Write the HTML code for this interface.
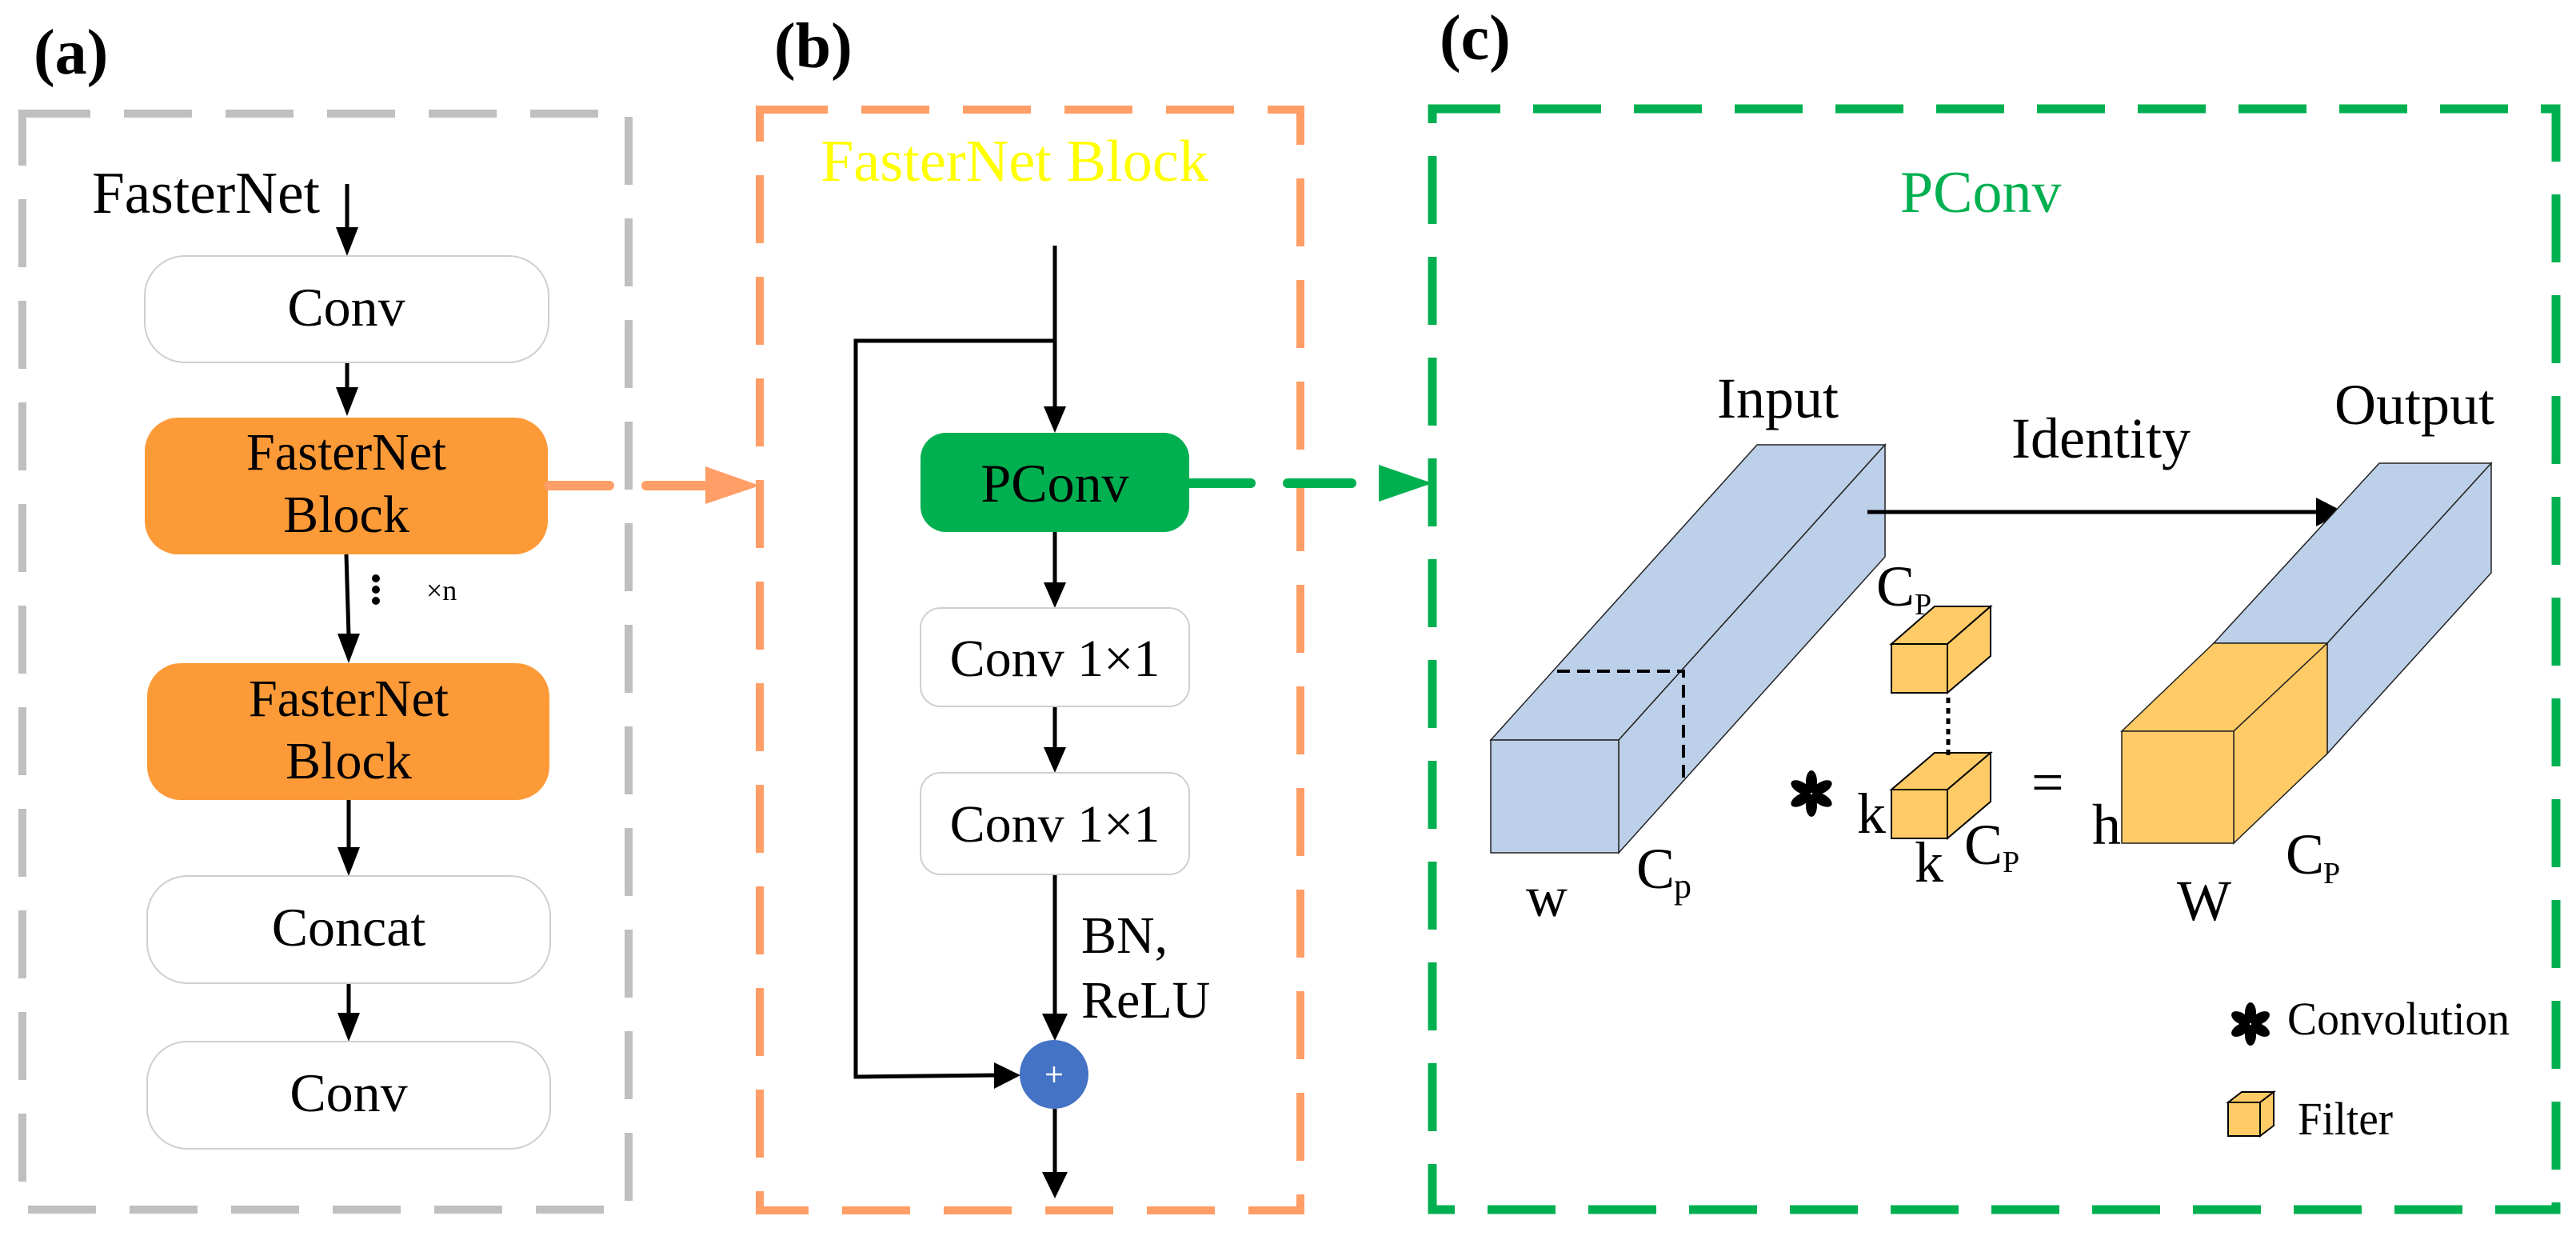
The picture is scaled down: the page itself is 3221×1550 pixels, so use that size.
<!DOCTYPE html>
<html><head><meta charset="utf-8"><style>
html,body{margin:0;padding:0;background:#fff}
svg{display:block}
text{font-family:"Liberation Serif",serif}
</style></head><body>
<svg width="3221" height="1550" viewBox="0 0 3221 1550" xmlns="http://www.w3.org/2000/svg">
<!-- labels -->
<text x="42" y="92" font-size="80" font-weight="bold">(a)</text>
<text x="968" y="84" font-size="80" font-weight="bold">(b)</text>
<text x="1800" y="74" font-size="80" font-weight="bold">(c)</text>

<!-- panel boxes -->
<rect x="28" y="142" width="758" height="1370" fill="none" stroke="#bfbfbf" stroke-width="10" stroke-dasharray="85 42"/>
<rect x="950" y="137" width="676" height="1376" fill="none" stroke="#FF9E66" stroke-width="10" stroke-dasharray="85 42"/>
<rect x="1791" y="136" width="1405" height="1376" fill="none" stroke="#00B050" stroke-width="11" stroke-dasharray="85 41"/>

<!-- panel a -->
<text x="115" y="266" font-size="74" textLength="285" lengthAdjust="spacingAndGlyphs">FasterNet</text>
<g stroke="#000" stroke-width="5" fill="#000">
<line x1="434" y1="230" x2="434" y2="290"/>
<polygon points="420,284 448,284 434,320" stroke="none"/>
<line x1="434" y1="453" x2="434" y2="490"/>
<polygon points="420,484 448,484 434,520" stroke="none"/>
<line x1="433" y1="693" x2="436" y2="795"/>
<polygon points="422,792 450,792 436,829" stroke="none"/>
<line x1="436" y1="1000" x2="436" y2="1062"/>
<polygon points="422,1059 450,1059 436,1095" stroke="none"/>
<line x1="436" y1="1229" x2="436" y2="1268"/>
<polygon points="422,1266 450,1266 436,1302" stroke="none"/>
</g>
<circle cx="470" cy="723" r="5"/><circle cx="470" cy="737" r="5"/><circle cx="470" cy="751" r="5"/>
<text x="533" y="750" font-size="36">×n</text>

<rect x="181" y="320" width="505" height="133" rx="50" fill="#fff" stroke="#cfcfcf" stroke-width="2"/>
<text x="433" y="407" font-size="68" text-anchor="middle">Conv</text>
<rect x="181" y="522" width="504" height="171" rx="42" fill="#FD9A38"/>
<text x="433" y="587" font-size="66" text-anchor="middle" textLength="250" lengthAdjust="spacingAndGlyphs">FasterNet</text>
<text x="433" y="665" font-size="66" text-anchor="middle">Block</text>
<rect x="184" y="829" width="503" height="171" rx="42" fill="#FD9A38"/>
<text x="436" y="895" font-size="66" text-anchor="middle" textLength="250" lengthAdjust="spacingAndGlyphs">FasterNet</text>
<text x="436" y="973" font-size="66" text-anchor="middle">Block</text>
<rect x="184" y="1095" width="504" height="134" rx="50" fill="#fff" stroke="#cfcfcf" stroke-width="2"/>
<text x="436" y="1182" font-size="68" text-anchor="middle">Concat</text>
<rect x="184" y="1302" width="504" height="134" rx="50" fill="#fff" stroke="#cfcfcf" stroke-width="2"/>
<text x="436" y="1389" font-size="68" text-anchor="middle">Conv</text>

<!-- orange connector -->
<g stroke="#FF9E66" stroke-width="12" stroke-linecap="round">
<line x1="686" y1="607" x2="762" y2="607"/>
<line x1="808" y1="607" x2="880" y2="607"/>
</g>
<polygon points="882,583 882,630 950,607" fill="#FF9E66"/>

<!-- panel b -->
<text x="1026" y="226" font-size="74" fill="#FFFF00" textLength="485" lengthAdjust="spacingAndGlyphs">FasterNet Block</text>
<g stroke="#000" stroke-width="5" fill="none">
<line x1="1319" y1="307" x2="1319" y2="510"/>
<polyline points="1319,426 1070,426 1070,1346 1245,1344"/>
<line x1="1319" y1="662" x2="1319" y2="730"/>
<line x1="1319" y1="883" x2="1319" y2="936"/>
<line x1="1319" y1="1093" x2="1319" y2="1270"/>
<line x1="1319" y1="1386" x2="1319" y2="1470"/>
</g>
<g fill="#000">
<polygon points="1305,508 1333,508 1319,541"/>
<polygon points="1305,728 1333,728 1319,760"/>
<polygon points="1305,934 1333,934 1319,966"/>
<polygon points="1303,1267 1335,1267 1319,1301"/>
<polygon points="1303,1465 1335,1465 1319,1498"/>
<polygon points="1243,1328 1243,1361 1276,1344"/>
</g>
<rect x="1151" y="541" width="336" height="124" rx="32" fill="#00B050"/>
<text x="1319" y="627" font-size="68" text-anchor="middle">PConv</text>
<rect x="1151" y="760" width="336" height="123" rx="25" fill="#fff" stroke="#cfcfcf" stroke-width="2"/>
<text x="1319" y="845" font-size="66" text-anchor="middle">Conv 1×1</text>
<rect x="1151" y="966" width="336" height="127" rx="25" fill="#fff" stroke="#cfcfcf" stroke-width="2"/>
<text x="1319" y="1052" font-size="66" text-anchor="middle">Conv 1×1</text>
<text x="1352" y="1191" font-size="66">BN,</text>
<text x="1352" y="1272" font-size="66">ReLU</text>
<ellipse cx="1318" cy="1343" rx="43" ry="43" fill="#4472C4"/>
<g stroke="#fff" stroke-width="2.5"><line x1="1308" y1="1343" x2="1328" y2="1343"/><line x1="1318" y1="1333" x2="1318" y2="1353"/></g>

<!-- green connector -->
<g stroke="#00B050" stroke-width="12" stroke-linecap="round">
<line x1="1487" y1="604" x2="1564" y2="604"/>
<line x1="1610" y1="604" x2="1690" y2="604"/>
</g>
<polygon points="1724,581 1724,627 1791,604" fill="#00B050"/>

<!-- panel c -->
<text x="2376" y="265" font-size="74" fill="#00B050">PConv</text>
<text x="2147" y="522" font-size="72">Input</text>
<text x="2515" y="572" font-size="72">Identity</text>
<text x="2919" y="530" font-size="72">Output</text>

<!-- input prism -->
<g stroke="#222" stroke-width="1.5" fill="#BDD0E9">
<polygon points="1864,925 2024,925 2357,556 2197,556"/>
<polygon points="2024,925 2357,556 2357,696 2024,1066"/>
<rect x="1864" y="925" width="160" height="141"/>
</g>
<g stroke="#000" stroke-width="4" stroke-dasharray="16 9" fill="none">
<polyline points="1947,839 2105,839 2105,980"/>
</g>
<line x1="2335" y1="640" x2="2900" y2="640" stroke="#000" stroke-width="5"/>
<polygon points="2896,622 2931,640 2896,658" fill="#000"/>

<!-- output prism -->
<g stroke="#222" stroke-width="1.5">
<polygon points="2768,804 2910,804 3115,579 2975,579" fill="#BDD0E9"/>
<polygon points="2910,804 3115,579 3115,716 2910,942" fill="#BDD0E9"/>
<polygon points="2653,914 2793,914 2910,804 2768,804" fill="#FECB66"/>
<polygon points="2793,914 2910,804 2910,942 2793,1054" fill="#FECB66"/>
<rect x="2653" y="914" width="140" height="140" fill="#FECB66"/>
</g>

<!-- filter cubes -->
<g stroke="#000" stroke-width="2" fill="#FECB66">
<polygon points="2365,805 2435,805 2489,758 2419,758"/>
<polygon points="2435,805 2489,758 2489,820 2435,866"/>
<rect x="2365" y="805" width="70" height="61"/>
<polygon points="2365,987 2435,987 2489,941 2419,941"/>
<polygon points="2435,987 2489,941 2489,1002 2435,1048"/>
<rect x="2365" y="987" width="70" height="61"/>
</g>
<line x1="2436" y1="872" x2="2436" y2="947" stroke="#000" stroke-width="5" stroke-dasharray="7 6"/>

<text x="2346" y="757" font-size="72">C</text><text x="2394" y="768" font-size="38">P</text>
<text x="2322" y="1041" font-size="72">k</text>
<text x="2394" y="1102" font-size="72">k</text>
<text x="2456" y="1080" font-size="72">C</text><text x="2504" y="1090" font-size="38">P</text>
<text x="2540" y="1002" font-size="72">=</text>
<text x="2616" y="1055" font-size="72">h</text>
<text x="1908" y="1145" font-size="72">w</text>
<text x="2046" y="1110" font-size="72">C</text><text x="2093" y="1122" font-size="44">p</text>
<text x="2722" y="1150" font-size="72">W</text>
<text x="2858" y="1092" font-size="72">C</text><text x="2905" y="1104" font-size="38">P</text>

<!-- asterisks -->
<g fill="#000" transform="translate(2265,992)">
<ellipse cx="0" cy="-15" rx="7" ry="14"/>
<ellipse cx="0" cy="-15" rx="7" ry="14" transform="rotate(60)"/>
<ellipse cx="0" cy="-15" rx="7" ry="14" transform="rotate(120)"/>
<ellipse cx="0" cy="-15" rx="7" ry="14" transform="rotate(180)"/>
<ellipse cx="0" cy="-15" rx="7" ry="14" transform="rotate(240)"/>
<ellipse cx="0" cy="-15" rx="7" ry="14" transform="rotate(300)"/>
</g>
<g fill="#000" transform="translate(2814,1280)">
<ellipse cx="0" cy="-14" rx="7" ry="13"/>
<ellipse cx="0" cy="-14" rx="7" ry="13" transform="rotate(60)"/>
<ellipse cx="0" cy="-14" rx="7" ry="13" transform="rotate(120)"/>
<ellipse cx="0" cy="-14" rx="7" ry="13" transform="rotate(180)"/>
<ellipse cx="0" cy="-14" rx="7" ry="13" transform="rotate(240)"/>
<ellipse cx="0" cy="-14" rx="7" ry="13" transform="rotate(300)"/>
</g>
<text x="2860" y="1293" font-size="58" textLength="278" lengthAdjust="spacingAndGlyphs">Convolution</text>
<g stroke="#000" stroke-width="2" fill="#FECB66">
<polygon points="2786,1378 2826,1378 2843,1365 2803,1365"/>
<polygon points="2826,1378 2843,1365 2843,1407 2826,1420"/>
<rect x="2786" y="1378" width="40" height="42"/>
</g>
<text x="2873" y="1418" font-size="58" textLength="119" lengthAdjust="spacingAndGlyphs">Filter</text>
</svg>
</body></html>
